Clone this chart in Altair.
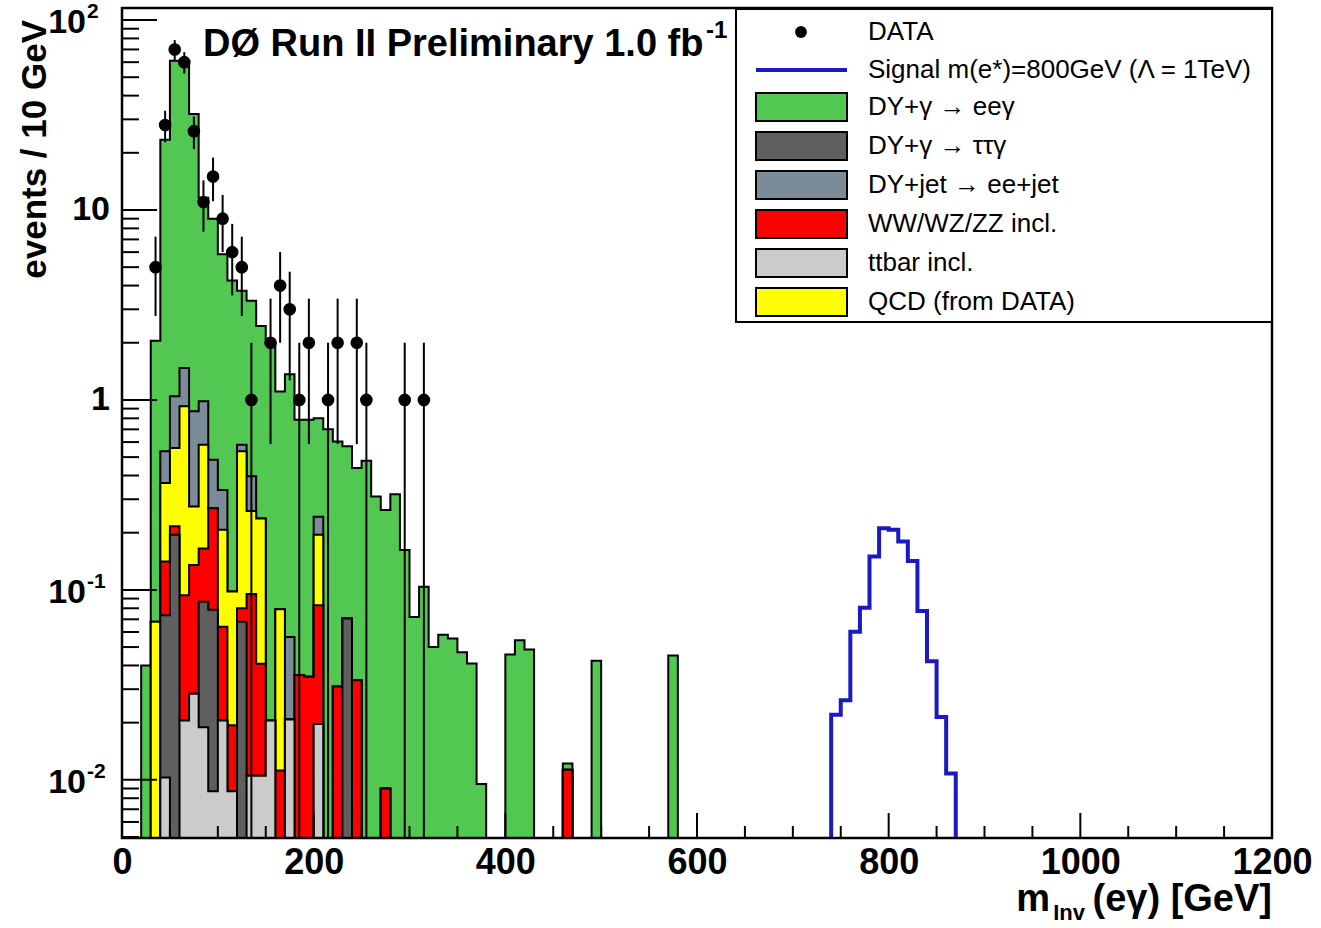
import altair as alt
import numpy as np
import pandas as pd

# ---------------- data ----------------
BIN_LO = list(range(0, 600, 10))          # 10 GeV bins, 0-600 GeV

# bin contents per background (index = bin low edge / 10)
ttbar = [0, 0, 0, 0, 0.0103, 0, 0.0205, 0.0284, 0.0189, 0.0087,
         0.0205, 0.0087, 0, 0.0105, 0.0105, 0.0205, 0, 0.0208, 0, 0,
         0.0197, 0, 0, 0, 0, 0, 0, 0, 0, 0,
         0, 0, 0, 0, 0, 0, 0, 0, 0, 0,
         0, 0, 0, 0, 0, 0, 0, 0, 0, 0,
         0, 0, 0, 0, 0, 0, 0, 0, 0, 0]
tautau = [0, 0, 0, 0, 0.0633, 0.195, 0, 0, 0.0676, 0.0698,
          0, 0, 0.068, 0, 0, 0, 0, 0, 0, 0,
          0, 0, 0, 0.0707, 0, 0, 0, 0, 0, 0,
          0, 0, 0, 0, 0, 0, 0, 0, 0, 0,
          0, 0, 0, 0, 0, 0, 0, 0, 0, 0,
          0, 0, 0, 0, 0, 0, 0, 0, 0, 0]
ww = [0, 0, 0, 0, 0.0674, 0.021, 0.0733, 0.1066, 0.0785, 0.1905,
      0.0435, 0.0107, 0.012, 0.0845, 0.0304, 0, 0.0112, 0, 0.0356, 0.0349,
      0.0633, 0, 0.031, 0, 0.0334, 0, 0, 0.009, 0, 0,
      0, 0, 0, 0, 0, 0, 0, 0, 0, 0,
      0, 0, 0, 0, 0, 0, 0.0113, 0, 0, 0,
      0, 0, 0, 0, 0, 0, 0, 0, 0, 0]
qcd = [0, 0, 0, 0.068, 0.224, 0.342, 0.832, 0.140, 0.415, 0,
       0.143, 0.0786, 0.456, 0.165, 0.197, 0, 0.0678, 0, 0, 0,
       0.112, 0, 0, 0, 0, 0, 0, 0, 0, 0,
       0, 0, 0, 0, 0, 0, 0, 0, 0, 0,
       0, 0, 0, 0, 0, 0, 0, 0, 0, 0,
       0, 0, 0, 0, 0, 0, 0, 0, 0, 0]
dyjet = [0, 0, 0, 0, 0.171, 0.488, 0.549, 0.597, 0.404, 0.215,
         0.129, 0, 0.044, 0.136, 0, 0, 0, 0.0357, 0, 0,
         0.048, 0, 0, 0, 0, 0, 0, 0, 0, 0,
         0, 0, 0, 0, 0, 0, 0, 0, 0, 0,
         0, 0, 0, 0, 0, 0, 0, 0, 0, 0,
         0, 0, 0, 0, 0, 0, 0, 0, 0, 0]
eeg = [0, 0, 0.040, 1.98, 22.9, 60.0, 59.5, 31.1, 10.6, 8.5,
       5.51, 4.15, 3.18, 2.93, 2.21, 1.98, 1.03, 1.31, 0.751, 0.752,
       0.557, 0.70, 0.574, 0.499, 0.405, 0.478, 0.31, 0.254, 0.319, 0.162,
       0.072, 0.104, 0.050, 0.058, 0.0555, 0.047, 0.041, 0.0095, 0, 0,
       0.0457, 0.0543, 0.0485, 0, 0, 0, 0.0009, 0, 0, 0.0423,
       0, 0, 0, 0, 0, 0, 0, 0.0451, 0, 0]

# signal e* (800 GeV), bins 740-870 GeV
SIG_LO = list(range(740, 870, 10))
signal = [0.0220, 0.0262, 0.0602, 0.0805, 0.150, 0.211, 0.207,
          0.180, 0.142, 0.0773, 0.0421, 0.0214, 0.0108]

# data (bin centre, counts)
DATA_X = [35, 45, 55, 65, 75, 85, 95, 105, 115, 125, 135, 155, 165, 175,
          185, 195, 215, 225, 245, 255, 295, 315]
DATA_N = [5, 28, 70, 60, 26, 11, 15, 9, 6, 5, 1, 2, 4, 3,
          1, 2, 1, 2, 2, 1, 1, 1]

COMPONENTS = ["ttbar", "tautau", "ww", "qcd", "dyjet", "eeg"]   # bottom -> top
COLORS = {"ttbar": "#cbcbcb", "tautau": "#5f5f5f", "ww": "#ff0000",
          "qcd": "#ffff00", "dyjet": "#7b8b98", "eeg": "#52c852"}
LEG_LABELS = ["DATA", "Signal m(e*)=800GeV (\u039b = 1TeV)", "DY+\u03b3 \u2192 ee\u03b3",
              "DY+\u03b3 \u2192 \u03c4\u03c4\u03b3", "DY+jet \u2192 ee+jet", "WW/WZ/ZZ incl.",
              "ttbar incl.", "QCD (from DATA)"]
LEG_SWATCH = [None, None, "eeg", "tautau", "dyjet", "ww", "ttbar", "qcd"]

# ---------------- layout ----------------
W, H = 1150, 830
YMIN, YMAX = 0.00494, 115.7
FLOOR = 1e-3
FONT = "Liberation Sans"
BLUE = "#1a1ac4"

xs = alt.Scale(domain=[0, 1200], nice=False, zero=False)
ys = alt.Scale(type="log", domain=[YMIN, YMAX], nice=False)
XAXIS = alt.Axis(values=list(range(0, 1201, 200)), title=None, format="d", labelFont=FONT,
                 labelFontSize=36, labelFontWeight="bold", labelColor="black",
                 ticks=False, tickSize=0, domain=False, grid=False, labelPadding=7,
                 labelOverlap=False, labelFlush=False, labelBound=False)


def X(field):
    return alt.X(field, type="quantitative", scale=xs, axis=XAXIS)


def Y(field):
    return alt.Y(field, type="quantitative", scale=ys, axis=None)


layers = []

# stacked backgrounds: cumulative histograms drawn from the top one down
stack = np.cumsum([np.array(v, dtype=float) for v in
                   [ttbar, tautau, ww, qcd, dyjet, eeg]], axis=0)
for i in range(len(COMPONENTS) - 1, -1, -1):
    vals = [v if v > 0 else FLOOR for v in stack[i]] + [FLOOR]
    df = pd.DataFrame({"x": BIN_LO + [BIN_LO[-1] + 10], "y": vals,
                       "y2": [FLOOR] * (len(BIN_LO) + 1)})
    layers.append(alt.Chart(df).mark_area(interpolate="step-after", clip=True,
                                          color=COLORS[COMPONENTS[i]], opacity=1,
                                          orient="vertical")
                  .encode(x=X("x"), y=Y("y"), y2="y2:Q"))
    layers.append(alt.Chart(df).mark_line(interpolate="step-after", clip=True,
                                          color="black", strokeWidth=2)
                  .encode(x=X("x"), y=Y("y")))

# signal histogram outline
sx = [SIG_LO[0]] + SIG_LO + [SIG_LO[-1] + 10]
sy = [FLOOR] + signal + [FLOOR]
sig_df = pd.DataFrame({"x": sx, "y": sy, "i": list(range(len(sx)))})
layers.append(alt.Chart(sig_df).mark_line(interpolate="step-after", clip=True,
                                          color=BLUE, strokeWidth=4)
              .encode(x=X("x"), y=Y("y"), order="i:Q"))

# data with Poisson error bars
n = np.array(DATA_N, dtype=float)
lo = n - np.sqrt(n)
lo = np.where(lo > 0, lo, FLOOR)
dat = pd.DataFrame({"x": DATA_X, "n": DATA_N, "lo": lo, "hi": n + np.sqrt(n)})
layers.append(alt.Chart(dat).mark_rule(color="black", strokeWidth=2, clip=True)
              .encode(x=X("x"), y=Y("lo"), y2="hi:Q"))
layers.append(alt.Chart(dat).mark_circle(color="black", size=160, opacity=1)
              .encode(x=X("x"), y=Y("n")))

# axis ticks (inside the frame, as in ROOT)
ymaj = [10.0 ** e for e in range(-2, 3)]
ymin_t = [m * 10.0 ** e for e in range(-3, 3) for m in range(2, 10)
          if YMIN <= m * 10.0 ** e <= YMAX]
layers.append(alt.Chart(pd.DataFrame({"y": ymaj})).mark_rule(color="black", strokeWidth=2)
              .encode(y=Y("y"), x=alt.value(0), x2=alt.value(35)))
layers.append(alt.Chart(pd.DataFrame({"y": ymin_t})).mark_rule(color="black", strokeWidth=2)
              .encode(y=Y("y"), x=alt.value(0), x2=alt.value(17)))
xmaj = list(range(0, 1201, 200))
xmin_t = [v for v in range(0, 1201, 50) if v % 200]
layers.append(alt.Chart(pd.DataFrame({"x": xmaj})).mark_rule(color="black", strokeWidth=2)
              .encode(x=X("x"), y=alt.value(H), y2=alt.value(H - 25)))
layers.append(alt.Chart(pd.DataFrame({"x": xmin_t})).mark_rule(color="black", strokeWidth=2)
              .encode(x=X("x"), y=alt.value(H), y2=alt.value(H - 12)))

# frame
one = pd.DataFrame({"k": [0]})
layers.append(alt.Chart(one).mark_rect(fillOpacity=0, stroke="black", strokeWidth=2.5)
              .encode(x=alt.value(0), x2=alt.value(W), y=alt.value(0), y2=alt.value(H)))

# y tick labels (10^n with superscripts)
ylab = pd.DataFrame({"v": ymaj, "base": ["10", "10", "1", "10", "10"],
                     "sup": ["-2", "-1", "", "", "2"]})
with_sup = ylab[ylab["sup"] != ""]
no_sup = ylab[ylab["sup"] == ""]
layers.append(alt.Chart(with_sup).mark_text(align="right", baseline="middle", font=FONT,
                                            fontSize=34, fontWeight="bold", color="black", dy=3)
              .encode(y=Y("v"), x=alt.value(-36), text="base:N"))
layers.append(alt.Chart(with_sup).mark_text(align="left", baseline="middle", font=FONT,
                                            fontSize=21, fontWeight="bold", color="black", dy=-8)
              .encode(y=Y("v"), x=alt.value(-35), text="sup:N"))
layers.append(alt.Chart(no_sup).mark_text(align="right", baseline="middle", font=FONT,
                                          fontSize=34, fontWeight="bold", color="black")
              .encode(y=Y("v"), x=alt.value(-12), text="base:N"))


def label(text, x, y, size, weight="bold", align="left", baseline="alphabetic", angle=0):
    kw = dict(align=align, baseline=baseline, font=FONT, fontSize=size,
              fontWeight=weight, color="black")
    if angle:
        kw["angle"] = angle
    return (alt.Chart(pd.DataFrame({"t": [text]})).mark_text(**kw)
            .encode(x=alt.value(x), y=alt.value(y), text="t:N"))


# titles
layers.append(label("D\u00d8 Run II Preliminary 1.0 fb", 81, 48, 38))
layers.append(label("-1", 584, 30, 24))
layers.append(label("events / 10 GeV", -76, 12, 35, align="right", angle=270))
layers.append(label("(e\u03b3) [GeV]", 1150, 903, 38, align="right"))
layers.append(label("Inv", 963, 912, 22, align="right"))
layers.append(label("m", 928, 903, 38, align="right"))

# legend
layers.append(alt.Chart(one).mark_rect(fill="white", stroke="black", strokeWidth=2)
              .encode(x=alt.value(614), x2=alt.value(W), y=alt.value(1), y2=alt.value(314)))
ROWS = [24, 62, 99, 138, 177, 216, 255, 294]
layers.append(alt.Chart(one).mark_circle(color="black", size=140, opacity=1)
              .encode(x=alt.value(679), y=alt.value(ROWS[0])))
layers.append(alt.Chart(one).mark_rule(color=BLUE, strokeWidth=4)
              .encode(x=alt.value(634), x2=alt.value(725), y=alt.value(ROWS[1])))
for r, comp in zip(ROWS, LEG_SWATCH):
    if comp is None:
        continue
    layers.append(alt.Chart(one).mark_rect(fill=COLORS[comp], stroke="black", strokeWidth=2)
                  .encode(x=alt.value(634), x2=alt.value(725),
                          y=alt.value(r - 14), y2=alt.value(r + 14)))
for r, txt in zip(ROWS, LEG_LABELS):
    layers.append(label(txt, 746, r, 26, weight="normal", baseline="middle"))

chart = (alt.layer(*layers)
         .properties(width=W, height=H, background="white",
                     padding={"left": 122, "top": 8, "right": 49, "bottom": 90},
                     autosize=alt.AutoSizeParams(type="none"))
         .configure_view(stroke="transparent"))

chart.save("out.html", embed_options={"renderer": "svg", "actions": False})
